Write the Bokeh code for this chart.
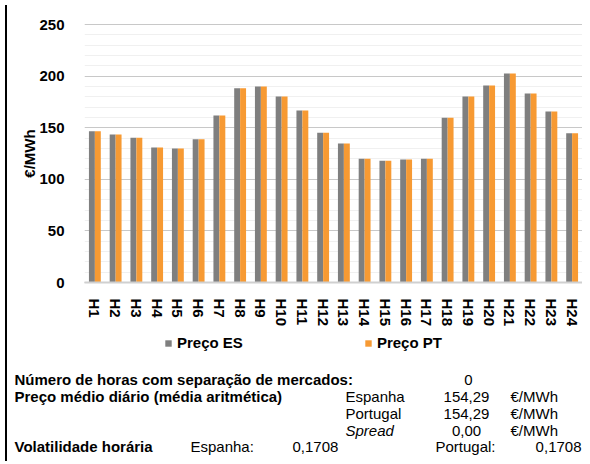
import math
from bokeh.plotting import figure
from bokeh.models import (Range1d, SingleIntervalTicker, FixedTicker, Legend, LegendItem,
                          Label, Div, ColumnDataSource, BoxAnnotation)
from bokeh.transform import dodge
from bokeh.layouts import row
from bokeh.embed import file_html
from bokeh.resources import INLINE

# ---------------- data ----------------
horas = ["H1", "H2", "H3", "H4", "H5", "H6", "H7", "H8", "H9", "H10", "H11", "H12",
         "H13", "H14", "H15", "H16", "H17", "H18", "H19", "H20", "H21", "H22", "H23", "H24"]
preco_es = [146.6, 143.4, 140.2, 130.8, 129.8, 138.9, 161.8, 188.3, 189.9, 180.2, 166.7, 145.0,
            134.7, 119.9, 118.0, 119.2, 119.9, 159.6, 180.2, 190.9, 202.5, 183.1, 165.7, 144.7]
preco_pt = [146.6, 143.4, 140.2, 130.8, 129.8, 138.9, 161.8, 188.3, 189.9, 180.2, 166.7, 145.0,
            134.7, 119.9, 118.0, 119.2, 119.9, 159.6, 180.2, 190.9, 202.5, 183.1, 165.7, 144.7]
series_labels = ["Preço ES", "Preço PT"]
y_title = "€/MWh"

horas_separacao = "0"
media_es = "154,29"
media_pt = "154,29"
spread = "0,00"
vol_es = "0,1708"
vol_pt = "0,1708"

FONT = "Liberation Sans"
GRAY = "#7f7f7f"
ORANGE = "#f79a33"

# layout constants (pixels); the plot frame covers the whole canvas
W, H = 570, 456            # canvas
TOP = 24                   # top of the 0..250 value band
CHART_H = 258              # height of the value band
CHART_L = 72               # left of the category band
N = len(horas)
Y_TOP_TICK = 250
PX_X = (W - CHART_L) / N           # pixels per category
PX_Y = CHART_H / Y_TOP_TICK        # pixels per €/MWh
X_MIN = 0.5 - CHART_L / PX_X
X_MAX = N + 0.5
Y_MAX = Y_TOP_TICK + TOP / PX_Y
Y_MIN = Y_MAX - H / PX_Y

# ---------------- chart ----------------
idx = list(range(1, N + 1))
src = ColumnDataSource(dict(x=idx, es=preco_es, pt=preco_pt))

p = figure(width=W, height=H,
           x_range=Range1d(X_MIN, X_MAX), y_range=Range1d(Y_MIN, Y_MAX),
           output_backend="svg", toolbar_location=None, min_border=0,
           min_border_left=0, min_border_right=0, min_border_top=0, min_border_bottom=0)
p.outline_line_color = None
p.background_fill_color = "white"
p.border_fill_color = "white"

ticker = SingleIntervalTicker(interval=50, num_minor_ticks=5)
p.yaxis.ticker = ticker
p.ygrid.ticker = ticker
p.yaxis.bounds = (0, Y_TOP_TICK)
p.ygrid.bounds = (0, Y_TOP_TICK)
if "cross_bounds" in p.ygrid[0].properties():
    p.ygrid.cross_bounds = (0.5, X_MAX)
p.ygrid.grid_line_color = "#c8c8c8"
p.ygrid.grid_line_width = 1
p.ygrid.minor_grid_line_color = "#f0f0f0"
p.xgrid.grid_line_color = None
# keep the grid out of the tick-label margin
p.add_layout(BoxAnnotation(left=X_MIN, right=0.5, bottom=0, top=Y_TOP_TICK + 1,
                           fill_color="white", fill_alpha=1, line_color=None,
                           level="underlay"))

r1 = p.vbar(x=dodge("x", -0.143), top="es", width=0.286, source=src,
            fill_color=GRAY, line_color=None)
r2 = p.vbar(x=dodge("x", 0.143), top="pt", width=0.286, source=src,
            fill_color=ORANGE, line_color=None)

p.yaxis.fixed_location = 0.5
p.yaxis.axis_line_color = None
p.yaxis.major_tick_line_color = None
p.yaxis.minor_tick_line_color = None
p.yaxis.major_label_standoff = 14
p.yaxis.major_label_text_font = FONT
p.yaxis.major_label_text_font_style = "bold"
p.yaxis.major_label_text_font_size = "15px"
p.yaxis.major_label_text_color = "#000000"

p.xaxis.fixed_location = 0
p.xaxis.bounds = (0.5, X_MAX)
p.xaxis.ticker = FixedTicker(ticks=idx)
p.xaxis.major_label_overrides = {i: h for i, h in zip(idx, horas)}
p.xaxis.axis_line_color = "#d0d0d0"
p.xaxis.axis_line_width = 2
p.xaxis.major_tick_line_color = None
p.xaxis.minor_tick_line_color = None
p.xaxis.major_label_orientation = "vertical"
p.xaxis.major_label_standoff = 10
p.xaxis.major_label_text_font = FONT
p.xaxis.major_label_text_font_style = "bold"
p.xaxis.major_label_text_font_size = "15px"
p.xaxis.major_label_text_color = "#000000"

# legend: location in screen px from the frame's bottom-left corner
legend = Legend(items=[LegendItem(label=series_labels[0], renderers=[r1]),
                       LegendItem(label=series_labels[1], renderers=[r2])],
                orientation="horizontal", location=(152, H - 20 - 331), margin=0, padding=0,
                spacing=121, glyph_width=8, glyph_height=8, label_standoff=5,
                label_text_font=FONT, label_text_font_style="bold",
                label_text_font_size="15px", label_text_color="#000000",
                border_line_color=None, background_fill_alpha=0)
p.add_layout(legend)


# ---------------- texts (pixel layout -> plot data coordinates) ----------------
def px_to_x(fx):
    return 0.5 + (fx - CHART_L) / PX_X


def px_to_y(fy):
    return Y_MAX - fy / PX_Y


def lab(fx, fy, text, style="normal", align="left", angle=0.0, baseline="alphabetic"):
    p.add_layout(Label(x=px_to_x(fx), y=px_to_y(fy), text=text, angle=angle,
                       text_font=FONT, text_font_size="15px",
                       text_font_style=style, text_align=align, text_baseline=baseline,
                       text_color="#000000"))


# y axis title, centred on the value band
lab(17, TOP + CHART_H / 2, y_title, "bold", align="center", angle=math.pi / 2, baseline="middle")

rows_y = [379, 396, 413, 430, 446]
lab(2, rows_y[0], "Número de horas com separação de mercados:", "bold")
lab(456, rows_y[0], horas_separacao, align="center")
lab(2, rows_y[1], "Preço médio diário (média aritmética)", "bold")
lab(333, rows_y[1], "Espanha")
lab(454, rows_y[1], media_es, align="center")
lab(498, rows_y[1], "€/MWh")
lab(333, rows_y[2], "Portugal")
lab(454, rows_y[2], media_pt, align="center")
lab(498, rows_y[2], "€/MWh")
lab(333, rows_y[3], "Spread", "italic")
lab(454, rows_y[3], spread, align="center")
lab(498, rows_y[3], "€/MWh")
lab(2, rows_y[4], "Volatilidade horária", "bold")
lab(178, rows_y[4], "Espanha:")
lab(280, rows_y[4], vol_es)
lab(423, rows_y[4], "Portugal:")
lab(569, rows_y[4], vol_pt, align="right")

border = Div(width=2, height=H, styles={"background-color": "black"})
layout = row(border, p, spacing=0)

open("out.html", "w").write(file_html(layout, INLINE))
